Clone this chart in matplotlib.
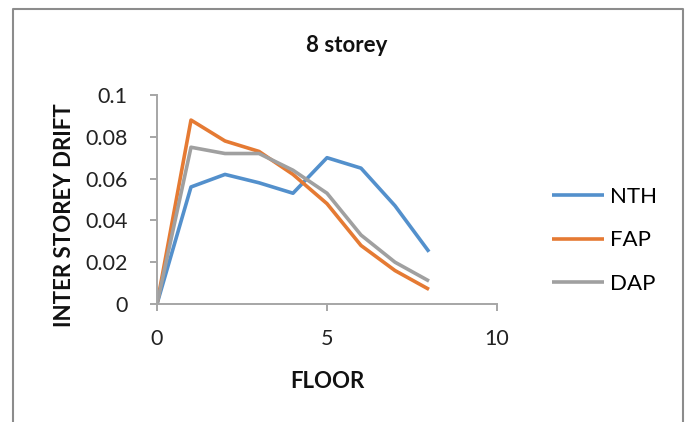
import matplotlib
matplotlib.use("Agg")
import matplotlib.pyplot as plt
from matplotlib.lines import Line2D

plt.rcParams['font.family'] = ['Lato', 'DejaVu Sans']

# inter storey drift per floor, 8 storey frame
floors = [0, 1, 2, 3, 4, 5, 6, 7, 8]
nth = [0, 0.056, 0.062, 0.058, 0.053, 0.070, 0.065, 0.047, 0.025]
fap = [0, 0.088, 0.078, 0.073, 0.062, 0.048, 0.028, 0.016, 0.007]
dap = [0, 0.075, 0.072, 0.072, 0.064, 0.053, 0.033, 0.020, 0.011]

series_names = ['NTH', 'FAP', 'DAP']
series_colors = ['#5390cc', '#e57a33', '#a0a0a0']
y_ticks = [0, 0.02, 0.04, 0.06, 0.08, 0.1]
x_ticks = [0, 5, 10]

W, H = 689, 422
fig = plt.figure(figsize=(W / 100, H / 100), dpi=100)
ax = fig.add_axes([157 / W, 1 - 304 / H, 340 / W, 209 / H])

for vals, name, col in zip([nth, fap, dap], series_names, series_colors):
    ax.plot(floors, vals, color=col, lw=2.6, label=name, solid_capstyle='butt')

ax.set_xlim(0, 10)
ax.set_ylim(0, 0.1)
ax.set_xticks(x_ticks)
ax.set_yticks(y_ticks)
ax.set_yticklabels([f'{v:g}' for v in y_ticks])
ax.set_xticklabels([str(v) for v in x_ticks])

axis_grey = '#a6a6a6'
for side in ['top', 'right']:
    ax.spines[side].set_visible(False)
for side in ['left', 'bottom']:
    ax.spines[side].set_color(axis_grey)
    ax.spines[side].set_linewidth(1.4)
ax.tick_params(axis='both', direction='out', length=5, width=1.4,
               color=axis_grey, labelsize=15.5, labelcolor='#222222')
ax.tick_params(axis='y', pad=16)
ax.tick_params(axis='x', pad=13)
ax.patch.set_alpha(0)

# titles placed on the chart area
fig.text(347 / W, 1 - 52 / H, '8 storey', ha='center', va='baseline',
         fontsize=16, fontweight='bold', color='#111111')
fig.text(327 / W, 1 - 388 / H, 'FLOOR', ha='center', va='baseline',
         fontsize=16, fontweight='bold', color='#111111')
fig.text(71 / W, 1 - 215 / H, 'INTER STOREY DRIFT', ha='center', va='baseline',
         rotation=90, rotation_mode='anchor',
         fontsize=16, fontweight='bold', color='#111111')

ax.legend(loc='upper left', bbox_to_anchor=(552 / W, 1 - 187 / H),
          bbox_transform=fig.transFigure, frameon=False, borderpad=0,
          borderaxespad=0, handlelength=2.35, handletextpad=0.25,
          labelspacing=1.05, prop={'size': 16})

# outer chart border
border = Line2D([13 / W, 13 / W, 683 / W, 683 / W], [0, 1 - 9 / H, 1 - 9 / H, 0],
                transform=fig.transFigure, color='#8c8c8c', lw=1.5)
fig.add_artist(border)

fig.savefig('out.png', dpi=100, facecolor='white')
